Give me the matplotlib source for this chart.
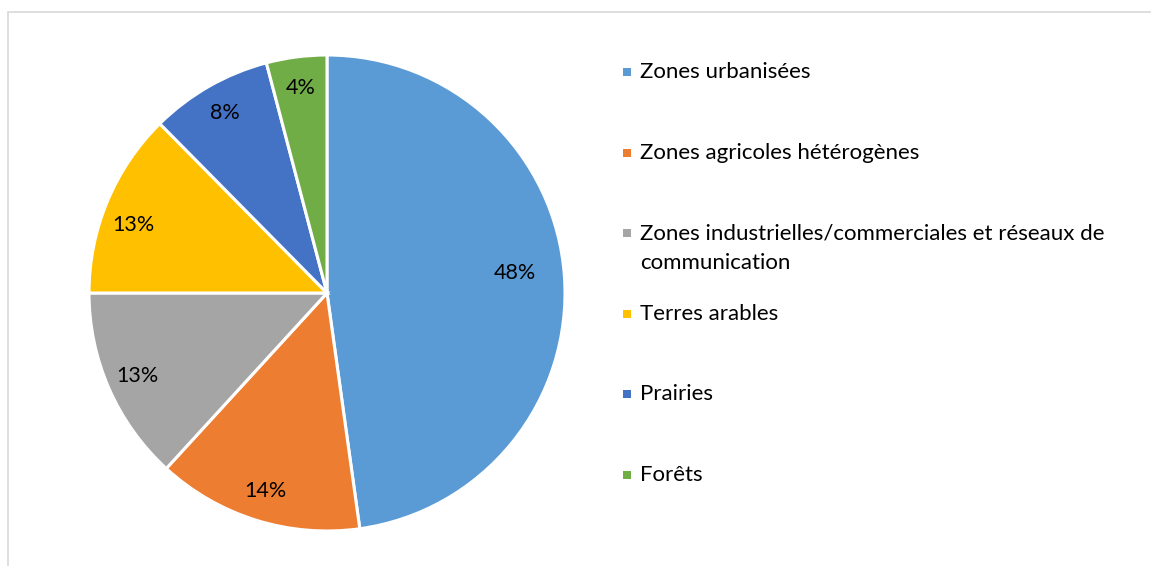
import matplotlib
matplotlib.use("Agg")
import matplotlib.pyplot as plt
from matplotlib.patches import Rectangle

categories = ["Zones urbanisées", "Zones agricoles hétérogènes",
              "Zones industrielles/commerciales et réseaux de\ncommunication",
              "Terres arables", "Prairies", "Forêts"]
values = [47.8, 14.0, 13.2, 12.6, 8.3, 4.1]
colors = ["#5B9BD5", "#ED7D31", "#A5A5A5", "#FFC000", "#4472C4", "#70AD47"]

plt.rcParams['font.family'] = ['Lato', 'DejaVu Sans']

W, H = 1151, 566
fig = plt.figure(figsize=(W / 100, H / 100), dpi=100)

# chart frame (partially cropped)
fig.patches.append(Rectangle((8 / W, -0.1), 1.2, (H - 12) / H + 0.1,
                             transform=fig.transFigure, fill=False,
                             edgecolor="#D9D9D9", linewidth=1.2))

cx, cy, r = 327, 293, 238
ax = fig.add_axes([(cx - r) / W, (H - cy - r) / H, 2 * r / W, 2 * r / H])
wedges, texts, autotexts = ax.pie(values, colors=colors, startangle=90,
                                  counterclock=False, autopct='%1.0f%%',
                                  pctdistance=0.87,
                                  wedgeprops=dict(edgecolor="white", linewidth=2.2),
                                  textprops=dict(fontsize=15.5, color="#000000"))
ax.set_xlim(-1, 1)
ax.set_ylim(-1, 1)
# largest slice label sits closer to centre
x0, y0 = autotexts[0].get_position()
autotexts[0].set_position((x0 * 0.79 / 0.87, y0 * 0.79 / 0.87 + 0.03))
x3, y3 = autotexts[3].get_position()
autotexts[3].set_position((x3 - 0.01, y3 - 0.05))

# legend drawn manually
lx_marker, lx_text = 623, 640
y_first = 72
step = 80.6
for i, (lab, col) in enumerate(zip(categories, colors)):
    y = y_first + i * step
    fig.patches.append(Rectangle((lx_marker / W, (H - y - 4) / H), 8 / W, 8 / H,
                                 transform=fig.transFigure, facecolor=col,
                                 edgecolor="none"))
    for j, ln in enumerate(lab.split("\n")):
        fig.text(lx_text / W, (H - y - j * 30) / H, ln, fontsize=16,
                 va="center", ha="left", color="#000000")

fig.savefig("out.png", dpi=100, facecolor="white")
